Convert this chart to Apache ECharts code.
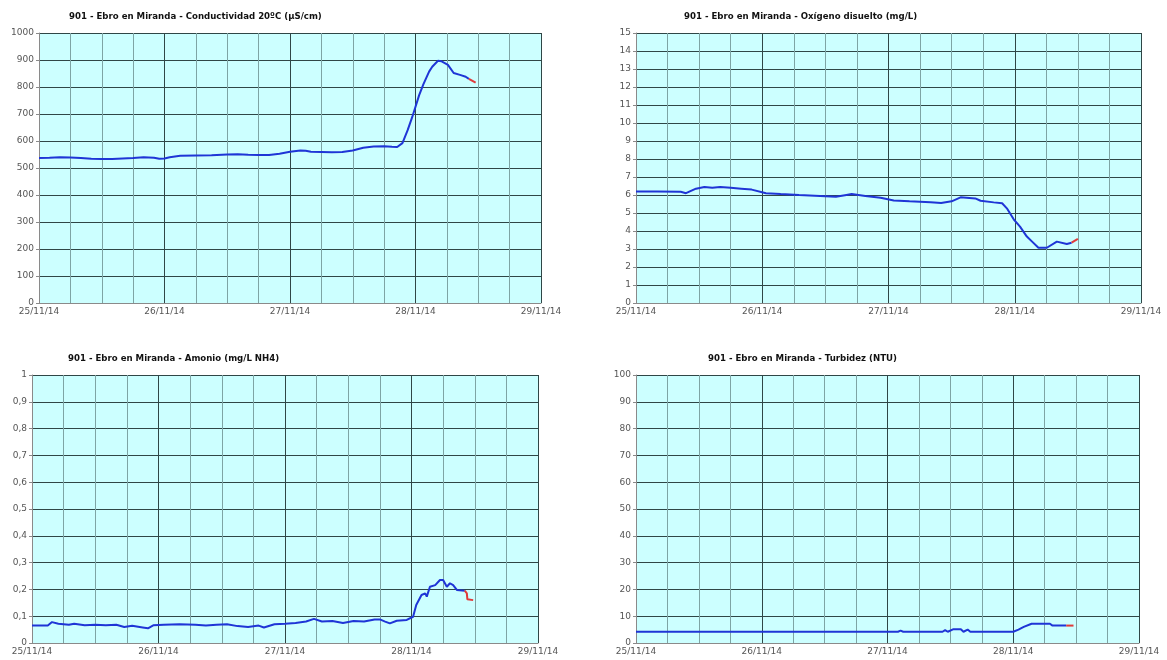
<!DOCTYPE html>
<html>
<head>
<meta charset="utf-8">
<script src="https://cdn.jsdelivr.net/npm/echarts@6/dist/echarts.min.js"></script>
<style>
  html, body { margin: 0; padding: 0; background: #fff; }
  #chart { width: 1167px; height: 660px; }
</style>
</head>
<body>
<div id="chart"></div>
<script>
// Station 901 - Ebro en Miranda, 25/11/14 .. 29/11/14 (x in hours from 25/11/14 00:00)
const dayLabels = ['25/11/14', '26/11/14', '27/11/14', '28/11/14', '29/11/14'];

const titles = [
  '901 - Ebro en Miranda - Conductividad 20ºC (µS/cm)',
  '901 - Ebro en Miranda - Oxígeno disuelto (mg/L)',
  '901 - Ebro en Miranda - Amonio (mg/L NH4)',
  '901 - Ebro en Miranda - Turbidez (NTU)'
];

// Conductivity
const condHours = [0, 2, 4, 6, 8, 10, 12, 14, 16, 18, 20, 22, 23, 24, 25, 27, 30, 33, 36, 38, 40, 42, 44, 46, 48, 50, 51, 52, 54, 56, 58, 60, 62, 64, 66, 67.5, 68.5, 69.5, 70.5, 71.4, 72.7, 73.5, 74.6, 75.2, 76.3, 77, 78.2, 79.3, 80.5, 81.6, 82.2];
const condValues = [537, 538, 540, 539, 537, 534, 533, 533, 535, 537, 540, 538, 534, 535, 540, 545, 546, 547, 550, 551, 549, 548, 548, 553, 560, 565, 564, 560, 559, 558, 559, 565, 575, 580, 581, 579, 578, 592, 640, 690, 770, 810, 857, 875, 897, 895, 882, 852, 845, 838, 830];
const condLastHours = [82.2, 83.5];
const condLastValues = [830, 816];

// Dissolved oxygen
const oxyHours = [0, 4, 8.5, 9.5, 11.4, 13, 14.5, 16, 18, 20, 22, 24.7, 27.5, 31, 35, 38, 40, 41, 43.6, 46.5, 49, 52, 56, 58, 60, 61.7, 64.5, 65.5, 68, 69.6, 70.5, 71.8, 73, 74.3, 75.3, 76.5, 78.1, 80, 81.9, 82.8];
const oxyValues = [6.2, 6.2, 6.18, 6.1, 6.35, 6.45, 6.4, 6.45, 6.4, 6.35, 6.3, 6.1, 6.05, 6.0, 5.95, 5.9, 6.0, 6.05, 5.95, 5.85, 5.7, 5.65, 5.6, 5.55, 5.65, 5.87, 5.81, 5.68, 5.59, 5.54, 5.26, 4.65, 4.24, 3.69, 3.41, 3.07, 3.07, 3.41, 3.28, 3.35];
const oxyLastHours = [82.8, 83.1, 84];
const oxyLastValues = [3.35, 3.41, 3.56];

// Ammonium
const nh4Hours = [0, 3, 3.8, 5, 7, 8, 10, 12, 14, 16, 17.5, 19, 21, 22, 23, 25, 28, 31, 33, 35, 37, 39, 41, 43, 44, 46, 48, 50, 52, 53.5, 55, 57, 59, 61, 63, 65, 66, 67, 67.9, 69.2, 71.1, 72.3, 72.9, 73.9, 74.6, 74.9, 75.5, 76.5, 77.4, 78, 78.7, 79.3, 79.9, 80.6, 82.1];
const nh4Values = [0.065, 0.065, 0.078, 0.072, 0.068, 0.072, 0.066, 0.068, 0.066, 0.068, 0.06, 0.064, 0.058, 0.055, 0.066, 0.068, 0.07, 0.068, 0.065, 0.068, 0.07, 0.063, 0.06, 0.065, 0.058, 0.07, 0.072, 0.075, 0.08, 0.09, 0.08, 0.082, 0.075, 0.082, 0.08, 0.088, 0.088, 0.08, 0.073, 0.083, 0.086, 0.098, 0.142, 0.179, 0.185, 0.173, 0.21, 0.216, 0.235, 0.235, 0.21, 0.223, 0.216, 0.198, 0.195];
const nh4LastHours = [82.1, 82.5, 82.6, 83.7];
const nh4LastValues = [0.195, 0.185, 0.163, 0.16];

// Turbidity
const turbHours = [0, 50, 50.5, 51, 58.5, 59, 59.5, 60.5, 62, 62.5, 63.3, 63.8, 66.2, 66.5, 67, 72, 73, 74, 75.5, 79, 79.5, 82.1];
const turbValues = [4.2, 4.2, 4.6, 4.2, 4.2, 4.8, 4.2, 5.1, 5.1, 4.2, 5.0, 4.2, 4.2, 4.8, 4.2, 4.2, 5.0, 6.0, 7.2, 7.2, 6.5, 6.5];
const turbLastHours = [82.1, 83.5];
const turbLastValues = [6.5, 6.5];

// Y scales: [max, step]
const yMax = [1000, 15, 1, 100];
const yStep = [100, 1, 0.1, 10];

const pairs = (xs, ys) => xs.map((x, i) => [x, ys[i]]);

const grids = [
  { left: 39, top: 33, width: 502, height: 270 },
  { left: 636, top: 33, width: 505, height: 270 },
  { left: 32, top: 375, width: 506, height: 268 },
  { left: 636, top: 375, width: 503, height: 268 }
];
const titlePos = [
  { left: 69, top: 12 },
  { left: 684, top: 12 },
  { left: 68, top: 354 },
  { left: 708, top: 354 }
];

const FONT = 'DejaVu Sans';
const darkGrid = '#2f4646';
const lightGrid = '#7ea4a4';

const series = [
  [condHours, condValues, condLastHours, condLastValues],
  [oxyHours, oxyValues, oxyLastHours, oxyLastValues],
  [nh4Hours, nh4Values, nh4LastHours, nh4LastValues],
  [turbHours, turbValues, turbLastHours, turbLastValues]
];

const option = {
  animation: false,
  backgroundColor: '#ffffff',
  title: titles.map((t, i) => ({
    text: t,
    left: titlePos[i].left,
    top: titlePos[i].top,
    padding: 0,
    textStyle: { fontFamily: FONT, fontSize: 8.6, fontWeight: 'bold', color: '#111' }
  })),
  grid: grids.map(g => Object.assign({ show: true, backgroundColor: '#ccffff', borderWidth: 0 }, g)),
  xAxis: grids.map((g, i) => ({
    type: 'value',
    gridIndex: i,
    min: 0,
    max: 96,
    interval: 6,
    axisLine: { show: true, lineStyle: { color: '#8a8a8a', width: 1 } },
    axisTick: { show: false },
    axisLabel: {
      fontFamily: FONT, fontSize: 9, color: '#555', margin: 4,
      formatter: v => (v % 24 === 0 ? dayLabels[v / 24] : '')
    },
    splitLine: { show: true, lineStyle: { color: [darkGrid, lightGrid, lightGrid, lightGrid], width: 1 } }
  })),
  yAxis: grids.map((g, i) => ({
    type: 'value',
    gridIndex: i,
    min: 0,
    max: yMax[i],
    interval: yStep[i],
    axisLine: { show: true, lineStyle: { color: '#8a8a8a', width: 1 } },
    axisTick: { show: true, length: 3, lineStyle: { color: '#8a8a8a' } },
    axisLabel: {
      fontFamily: FONT, fontSize: 9, color: '#555', margin: 5,
      formatter: v => (i === 2 ? (v === 0 || v === 1 ? String(v) : v.toFixed(1).replace('.', ',')) : String(v))
    },
    splitLine: { show: true, lineStyle: { color: darkGrid, width: 1 } }
  })),
  series: []
};

series.forEach((s, i) => {
  option.series.push({
    type: 'line', xAxisIndex: i, yAxisIndex: i,
    data: pairs(s[0], s[1]),
    showSymbol: false, smooth: false,
    lineStyle: { color: '#1f35d6', width: 2 }
  });
  option.series.push({
    type: 'line', xAxisIndex: i, yAxisIndex: i,
    data: pairs(s[2], s[3]),
    showSymbol: false,
    lineStyle: { color: '#e03a3a', width: 2 }
  });
});

const chart = echarts.init(document.getElementById('chart'), null, { renderer: 'canvas' });
chart.setOption(option);
</script>
</body>
</html>
